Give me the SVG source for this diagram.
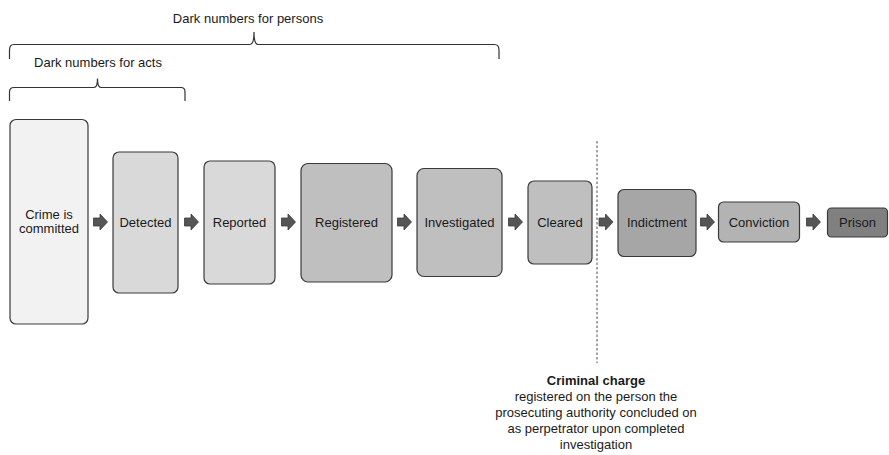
<svg xmlns="http://www.w3.org/2000/svg" width="889" height="455" viewBox="0 0 889 455">
  <style>
    text { font-family: "Liberation Sans", Arial, sans-serif; font-size: 13px; fill: #1a1a1a; }
    .c { text-anchor: middle; }
    .box { stroke: #3a3a3a; stroke-width: 1.2; }
    .brace { fill: none; stroke: #333; stroke-width: 1.2; }
    .arr { fill: #555; stroke: #3a3a3a; stroke-width: 0.8; }
  </style>
  <defs>
    <path id="blockArrow" d="M0,-4 H6.5 V-8 L14,0 L6.5,8 V4 H0 Z"/>
  </defs>
  <rect width="889" height="455" fill="#fff"/>

  <!-- Braces -->
  <g id="brace-persons">
    <path class="brace" d="M9.5,59 V50 Q9.5,44.5 14,44.5 H250 Q254,44.5 254,32 Q254,44.5 258,44.5 H494.5 Q499,44.5 499,50 V59"/>
    <text class="c" x="248" y="23">Dark numbers for persons</text>
  </g>
  <g id="brace-acts">
    <path class="brace" d="M9.5,101 V92 Q9.5,87.5 14,87.5 H94 Q97.5,87.5 97.5,78.5 Q97.5,87.5 101,87.5 H181 Q185,87.5 185,92 V101"/>
    <text class="c" x="98" y="67">Dark numbers for acts</text>
  </g>

  <!-- Stage nodes -->
  <g id="crime">
    <rect class="box" x="10" y="119.5" width="78" height="204.5" rx="6" fill="#f2f2f2"/>
    <text class="c" x="49" y="219">Crime is</text>
    <text class="c" x="49" y="233">committed</text>
  </g>
  <g id="detected">
    <rect class="box" x="113" y="152" width="65" height="141" rx="6" fill="#d9d9d9"/>
    <text class="c" x="145.5" y="227">Detected</text>
  </g>
  <g id="reported">
    <rect class="box" x="204" y="161" width="71" height="123" rx="6" fill="#d9d9d9"/>
    <text class="c" x="239.5" y="227">Reported</text>
  </g>
  <g id="registered">
    <rect class="box" x="301" y="163.5" width="91" height="118.5" rx="7" fill="#bfbfbf"/>
    <text class="c" x="346.5" y="227">Registered</text>
  </g>
  <g id="investigated">
    <rect class="box" x="417" y="168.5" width="85" height="108" rx="7" fill="#bfbfbf"/>
    <text class="c" x="459.5" y="227">Investigated</text>
  </g>
  <g id="cleared">
    <rect class="box" x="528" y="181" width="64" height="83" rx="6" fill="#bfbfbf"/>
    <text class="c" x="560" y="227">Cleared</text>
  </g>
  <g id="indictment">
    <rect class="box" x="618" y="189.5" width="78" height="67" rx="6" fill="#a6a6a6"/>
    <text class="c" x="657" y="227">Indictment</text>
  </g>
  <g id="conviction">
    <rect class="box" x="718.5" y="202" width="81" height="40" rx="5" fill="#b3b3b3"/>
    <text class="c" x="759" y="227">Conviction</text>
  </g>
  <g id="prison">
    <rect class="box" x="827.5" y="208" width="60" height="29" rx="4" fill="#808080"/>
    <text class="c" x="857.5" y="227">Prison</text>
  </g>

  <!-- Connectors -->
  <g id="connectors">
    <use href="#blockArrow" class="arr" x="93.5" y="222"/>
    <use href="#blockArrow" class="arr" x="184.5" y="222"/>
    <use href="#blockArrow" class="arr" x="281.5" y="222"/>
    <use href="#blockArrow" class="arr" x="397.5" y="222"/>
    <use href="#blockArrow" class="arr" x="508.5" y="222"/>
    <use href="#blockArrow" class="arr" x="599" y="222"/>
    <use href="#blockArrow" class="arr" x="700.5" y="222"/>
    <use href="#blockArrow" class="arr" x="806.5" y="222"/>
  </g>

  <!-- Charge boundary -->
  <g id="charge-line">
    <line x1="597" y1="141" x2="597" y2="363" stroke="#888" stroke-width="1.5" stroke-dasharray="2.5,2"/>
  </g>
  <g id="charge-note">
    <text class="c" x="596" y="385" font-weight="bold">Criminal charge</text>
    <text class="c" x="596" y="401">registered on the person the</text>
    <text class="c" x="596" y="417">prosecuting authority concluded on</text>
    <text class="c" x="596" y="433">as perpetrator upon completed</text>
    <text class="c" x="596" y="449">investigation</text>
  </g>
</svg>
